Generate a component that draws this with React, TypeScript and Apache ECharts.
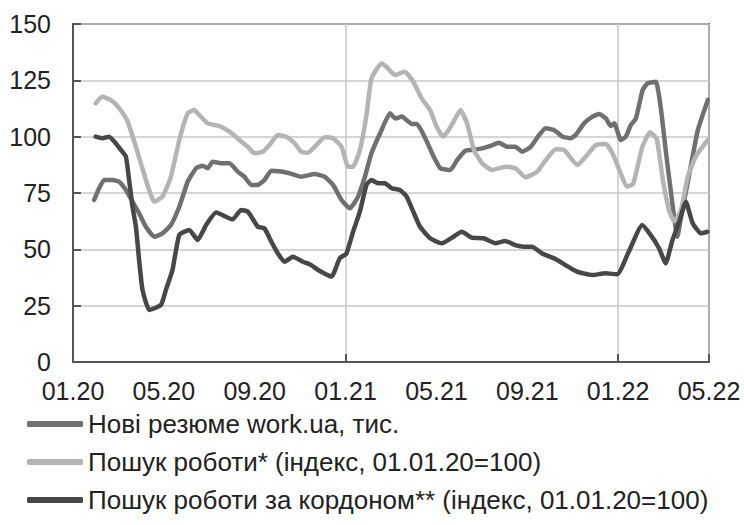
import React, { useEffect, useRef } from "react";
import * as echarts from "echarts";

// x values are months since 01.2020 (0 = 01.20, 12 = 01.21, 24 = 01.22)
const xTickLabels = ["01.20", "05.20", "09.20", "01.21", "05.21", "09.21", "01.22", "05.22"];

const seriesNames = [
  "Нові резюме work.ua, тис.",
  "Пошук роботи* (індекс, 01.01.20=100)",
  "Пошук роботи за кордоном** (індекс, 01.01.20=100)",
];

const newResumes: [number, number][] = [
  [0.93, 71.9], [1.15, 77.1], [1.37, 80.8], [1.74, 80.8], [2.03, 80], [2.33, 76.3], [2.62, 71.1],
  [2.91, 66], [3.21, 60], [3.58, 55.6], [3.94, 57.1], [4.31, 60.8], [4.68, 68.9], [5.05, 80],
  [5.42, 86], [5.71, 87.1], [5.93, 86], [6.15, 88.9], [6.52, 88.2], [6.89, 88.2], [7.25, 84.5],
  [7.55, 82.2], [7.85, 78.6], [8.14, 78.6], [8.43, 80.8], [8.73, 84.9], [9.17, 84.5], [9.54, 83.7],
  [10.05, 82.2], [10.64, 83.4], [11.08, 82.2], [11.45, 78.6], [11.82, 71.9], [12.19, 68.2],
  [12.55, 73.4], [12.85, 82.2], [13.14, 92.6], [13.52, 101.5], [13.96, 110.4], [14.19, 108.1],
  [14.48, 108.9], [14.92, 105.6], [15.14, 105.6], [15.51, 99.3], [15.88, 91.1], [16.17, 86],
  [16.61, 85.2], [16.91, 89.6], [17.28, 93.8], [17.57, 94.1], [18.01, 94.8], [18.38, 95.9],
  [18.75, 97.3], [19.12, 95.5], [19.48, 95.5], [19.78, 93.3], [20.15, 95.5], [20.52, 100.7],
  [20.81, 103.7], [21.18, 103], [21.55, 100], [21.91, 99.3], [22.13, 100.7], [22.5, 105.9],
  [22.87, 108.9], [23.17, 110.1], [23.46, 108.1], [23.68, 104.7], [23.83, 105.9], [24.12, 98.5],
  [24.34, 100], [24.56, 105.2], [24.78, 108.1], [25.08, 120.7], [25.3, 123.7], [25.66, 124.4],
  [25.89, 111.8], [26.11, 92.6], [26.33, 74.9], [26.61, 55.6], [26.77, 64.5], [27.14, 83.7],
  [27.51, 103], [27.95, 116.3],
];

const jobSearch: [number, number][] = [
  [1.0, 114.8], [1.29, 117.7], [1.66, 116.3], [2.03, 112.7], [2.38, 107.4], [2.77, 95.5],
  [3.21, 80.8], [3.58, 71.1], [3.94, 73.4], [4.31, 82.2], [4.68, 98.5], [5.05, 110.4],
  [5.34, 111.8], [5.56, 109.6], [5.93, 105.9], [6.45, 104.7], [6.89, 102.2], [7.33, 98.5],
  [7.7, 95.5], [7.99, 92.6], [8.36, 93.3], [8.65, 96.3], [9.02, 100.7], [9.39, 100], [9.76, 97],
  [10.05, 93.3], [10.34, 92.9], [10.72, 96.3], [11.08, 99.7], [11.45, 99.3], [11.82, 95.5],
  [12.11, 86.7], [12.33, 86.7], [12.63, 94], [12.92, 109.6], [13.14, 125.9], [13.58, 132.5],
  [13.8, 131], [14.17, 127.4], [14.61, 128.8], [14.98, 124.4], [15.35, 117], [15.72, 111.8],
  [16.01, 104.4], [16.3, 100], [16.54, 103], [16.75, 106.6], [17.06, 111.8], [17.35, 105.9],
  [17.65, 94.1], [18.01, 88.2], [18.45, 85.2], [19.04, 86.7], [19.48, 86], [19.92, 82],
  [20.44, 84.5], [20.81, 89.6], [21.25, 94.4], [21.62, 94.1], [22.21, 87.4], [22.57, 91.1],
  [23.02, 96.3], [23.46, 96.7], [23.75, 92.6], [24.1, 84], [24.38, 77.8], [24.66, 79],
  [25.05, 95], [25.4, 102], [25.7, 99], [25.98, 80], [26.25, 67], [26.47, 62.5], [26.77, 67.5],
  [27.06, 82], [27.43, 91.5], [27.94, 98.5],
];

const jobSearchAbroad: [number, number][] = [
  [1.0, 100], [1.29, 99.3], [1.59, 100], [1.89, 97], [2.11, 94.1], [2.33, 91.1], [2.47, 80.8],
  [2.62, 68.9], [2.77, 60], [2.91, 45.3], [3.06, 32], [3.36, 23.1], [3.87, 25.3], [4.09, 32],
  [4.38, 40.8], [4.68, 56.4], [5.12, 58.6], [5.49, 54.1], [5.86, 60.8], [6.3, 66.3], [7.03, 63.3],
  [7.4, 67.5], [7.7, 66.7], [8.14, 60], [8.43, 59.3], [8.73, 53.4], [9.02, 48.2], [9.32, 44.5],
  [9.68, 46.7], [10.12, 44.5], [10.49, 43], [10.79, 40.8], [11.38, 37.9], [11.74, 46],
  [12.04, 48.2], [12.33, 57.8], [12.63, 66.7], [12.92, 78.6], [13.14, 80.8], [13.43, 79.3],
  [13.73, 79.3], [14.03, 77.1], [14.39, 76.3], [14.69, 73.4], [14.98, 66.7], [15.28, 60],
  [15.72, 54.9], [16.23, 52.7], [16.75, 55.6], [17.12, 57.8], [17.56, 55.2], [18.07, 54.9],
  [18.59, 52.7], [19.03, 53.7], [19.47, 51.9], [19.84, 51.2], [20.21, 51.2], [20.65, 48.2],
  [21.24, 45.7], [21.68, 43], [22.19, 40.1], [22.86, 38.6], [23.44, 39.4], [23.96, 38.9],
  [24.47, 49], [25.06, 60.8], [25.43, 56.4], [25.8, 50.5], [26.09, 43.8], [26.39, 54.1],
  [26.69, 62.3], [26.98, 71.1], [27.28, 61.6], [27.64, 57.1], [27.93, 57.8],
];

const seriesColors = ["#707070", "#b4b4b4", "#474747"];

export default function App() {
  const ref = useRef<HTMLDivElement>(null);

  useEffect(() => {
    if (!ref.current) return;
    const chart = echarts.init(ref.current, null, { renderer: "svg" });
    const font = "'Liberation Sans', Arial, sans-serif";
    const axisColor = "#555555";
    const gridColor = "#c8c8c8";
    const datasets = [newResumes, jobSearch, jobSearchAbroad];

    chart.setOption({
      animation: false,
      backgroundColor: "#ffffff",
      textStyle: { fontFamily: font },
      grid: {
        left: 73,
        right: 35,
        top: 24,
        bottom: 163,
        show: true,
        borderColor: axisColor,
        borderWidth: 2,
        backgroundColor: "transparent",
      },
      legend: {
        orient: "vertical",
        left: 22,
        top: 406,
        itemWidth: 56,
        itemHeight: 6,
        itemGap: 12,
        icon: "roundRect",
        data: seriesNames,
        textStyle: { fontSize: 26, color: "#222222", fontFamily: font },
      },
      xAxis: [
        {
          type: "value",
          min: 0,
          max: 28,
          interval: 4,
          axisLine: { show: true, lineStyle: { color: axisColor, width: 2 } },
          axisTick: { show: false },
          splitLine: { show: false },
          axisLabel: {
            fontSize: 25,
            color: "#222222",
            margin: 16,
            fontFamily: font,
            formatter: (v: number) => xTickLabels[Math.round(v / 4)] ?? "",
          },
        },
        {
          type: "value",
          min: 0,
          max: 28,
          interval: 12,
          position: "bottom",
          axisLine: { show: false },
          axisLabel: { show: false },
          axisTick: { show: true, inside: true, length: 8, lineStyle: { color: axisColor, width: 2 } },
          splitLine: { show: true, lineStyle: { color: gridColor, width: 1.5 } },
        },
      ],
      yAxis: {
        type: "value",
        min: 0,
        max: 150,
        interval: 25,
        axisLine: { show: true, lineStyle: { color: axisColor, width: 2 } },
        axisTick: { show: true, inside: true, length: 8, lineStyle: { color: axisColor, width: 2 } },
        splitLine: { show: true, lineStyle: { color: gridColor, width: 1.5 } },
        axisLabel: { fontSize: 25, color: "#222222", margin: 22, fontFamily: font },
      },
      series: datasets.map((d, i) => ({
        name: seriesNames[i],
        type: "line",
        xAxisIndex: 0,
        data: d,
        showSymbol: false,
        symbol: "none",
        smooth: 0.15,
        color: seriesColors[i],
        lineStyle: { color: seriesColors[i], width: 4.5, cap: "round", join: "round" },
        z: 2 + i,
      })),
    });

    return () => chart.dispose();
  }, []);

  return (
    <div
      ref={ref}
      style={{ position: "fixed", left: 0, top: 0, width: 744, height: 525, background: "#fff" }}
    />
  );
}
